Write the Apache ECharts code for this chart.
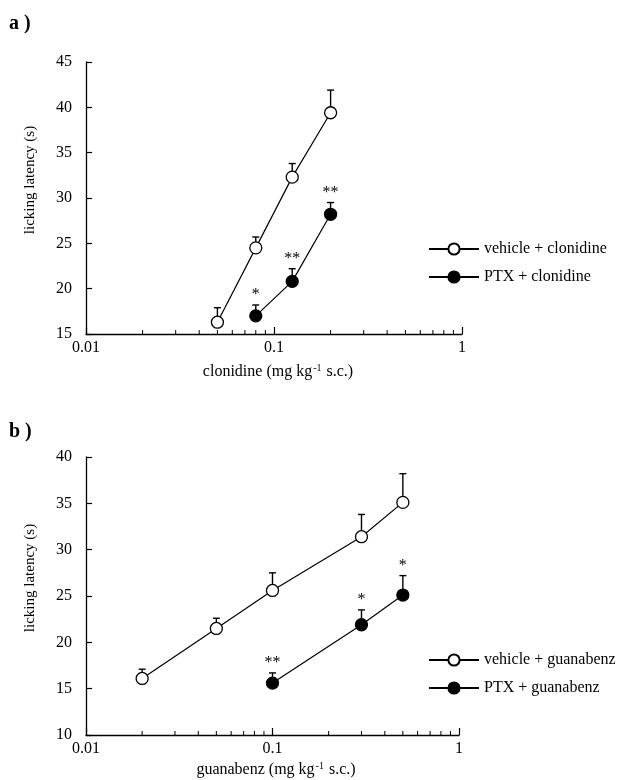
<!DOCTYPE html>
<html><head><meta charset="utf-8">
<script src="https://cdn.jsdelivr.net/npm/echarts@6/dist/echarts.min.js"></script>
<style>html,body{margin:0;padding:0;background:#fff}#c{width:618px;height:780px}</style>
</head><body><div id="c"></div>
<script>
const FONT = "'Liberation Serif','Times New Roman',serif";

// ---- panel a : clonidine ----
const clonVehDose = [0.05, 0.08, 0.125, 0.2];
const clonVehMean = [16.3, 24.5, 32.3, 39.4];
const clonVehSem  = [1.6, 1.2, 1.5, 2.5];
const clonPtxDose = [0.08, 0.125, 0.2];
const clonPtxMean = [17.0, 20.8, 28.2];
const clonPtxSem  = [1.2, 1.4, 1.3];
const clonPtxSig  = ['*', '**', '**'];
const clonYMin = 15, clonYMax = 45;

// ---- panel b : guanabenz ----
const guanVehDose = [0.02, 0.05, 0.1, 0.3, 0.5];
const guanVehMean = [16.1, 21.5, 25.6, 31.4, 35.1];
const guanVehSem  = [1.0, 1.1, 1.9, 2.4, 3.1];
const guanPtxDose = [0.1, 0.3, 0.5];
const guanPtxMean = [15.6, 21.9, 25.1];
const guanPtxSem  = [1.1, 1.6, 2.1];
const guanPtxSig  = ['**', '*', '*'];
const guanYMin = 10, guanYMax = 40;

const yStep = 5;
const xMin = 0.01, xMax = 1;
const xMinorTicks = [0.02,0.03,0.04,0.05,0.06,0.07,0.08,0.09,0.2,0.3,0.4,0.5,0.6,0.7,0.8,0.9];

const names = {
  a: ['vehicle + clonidine', 'PTX + clonidine'],
  b: ['vehicle + guanabenz', 'PTX + guanabenz']
};

const chart = echarts.init(document.getElementById('c'));

function pairs(d, m){ return d.map((v,i)=>[v, m[i]]); }

function lineSeries(name, d, m, filled, ax){
  return {
    type:'line', name, data:pairs(d,m), xAxisIndex:ax, yAxisIndex:ax,
    symbol:'circle', symbolSize:12, z:5, silent:true,
    itemStyle:{color: filled ? '#000' : '#fff', borderColor:'#000', borderWidth:1.3},
    lineStyle:{color:'#000', width:1.2},
    emphasis:{disabled:true}, animation:false
  };
}

function errSeries(d, m, s, sig, ax){
  return {
    type:'custom', xAxisIndex:ax, yAxisIndex:ax, silent:true, z:3, animation:false,
    data: d.map((v,i)=>[v, m[i], s[i]]),
    renderItem(params, api){
      const x = api.value(0), mean = api.value(1), sem = api.value(2);
      const b = api.coord([x, mean]), t = api.coord([x, mean+sem]);
      const ch = [
        {type:'line', shape:{x1:b[0],y1:b[1],x2:t[0],y2:t[1]}, style:{stroke:'#000', lineWidth:1.4}},
        {type:'line', shape:{x1:t[0]-3.5,y1:t[1],x2:t[0]+3.5,y2:t[1]}, style:{stroke:'#000', lineWidth:1.4}}
      ];
      const sg = sig ? sig[params.dataIndex] : '';
      if (sg) ch.push({type:'text', x:t[0], y:t[1]-2, style:{text:sg, font:'16px '+FONT, fill:'#000', align:'center', verticalAlign:'bottom'}});
      return {type:'group', children:ch};
    }
  };
}

function minorSeries(yMin, ax){
  return {
    type:'custom', xAxisIndex:ax, yAxisIndex:ax, silent:true, z:2, animation:false,
    data: xMinorTicks.map(v=>[v, yMin]),
    renderItem(params, api){
      const p = api.coord([api.value(0), api.value(1)]);
      return {type:'line', shape:{x1:p[0],y1:p[1],x2:p[0],y2:p[1]-4}, style:{stroke:'#000', lineWidth:1}};
    }
  };
}

const labelStyle = {fontFamily:FONT, fontSize:16, color:'#000'};

function xAxis(ax){
  return {
    type:'log', logBase:10, min:xMin, max:xMax, gridIndex:ax,
    axisLine:{show:true, onZero:false, lineStyle:{color:'#000', width:1.3}},
    axisTick:{show:true, inside:true, length:7, lineStyle:{color:'#000', width:1.2}},
    axisLabel:Object.assign({margin:6, formatter:v=>String(parseFloat((+v).toPrecision(6)))}, labelStyle),
    splitLine:{show:false}, minorTick:{show:false}
  };
}
function yAxis(ax, mn, mx){
  return {
    type:'value', min:mn, max:mx, interval:yStep, gridIndex:ax,
    axisLine:{show:true, lineStyle:{color:'#000', width:1.3}},
    axisTick:{show:true, inside:true, length:6, lineStyle:{color:'#000', width:1.2}},
    axisLabel:Object.assign({margin:14}, labelStyle),
    splitLine:{show:false}
  };
}

function legend(data, top){
  return {
    data, orient:'vertical', left:428, top, itemWidth:50, itemHeight:14, itemGap:12,
    padding:0, selectedMode:false,
    textStyle:{fontFamily:FONT, fontSize:16, color:'#000'}
  };
}

const supRich = {s:{fontFamily:FONT, fontSize:10, padding:[0,1,7,1], fill:'#000'}};

chart.setOption({
  animation:false,
  backgroundColor:'#fff',
  grid:[
    {left:86, right:156, top:62, height:272},
    {left:86, right:159, top:457, height:278}
  ],
  xAxis:[xAxis(0), xAxis(1)],
  yAxis:[yAxis(0, clonYMin, clonYMax), yAxis(1, guanYMin, guanYMax)],
  legend:[legend(names.a, 241), legend(names.b, 652)],
  series:[
    minorSeries(clonYMin, 0),
    errSeries(clonVehDose, clonVehMean, clonVehSem, null, 0),
    errSeries(clonPtxDose, clonPtxMean, clonPtxSem, clonPtxSig, 0),
    lineSeries(names.a[0], clonVehDose, clonVehMean, false, 0),
    lineSeries(names.a[1], clonPtxDose, clonPtxMean, true, 0),
    minorSeries(guanYMin, 1),
    errSeries(guanVehDose, guanVehMean, guanVehSem, null, 1),
    errSeries(guanPtxDose, guanPtxMean, guanPtxSem, guanPtxSig, 1),
    lineSeries(names.b[0], guanVehDose, guanVehMean, false, 1),
    lineSeries(names.b[1], guanPtxDose, guanPtxMean, true, 1)
  ],
  graphic:[
    {type:'text', x:9, y:24, style:{text:'a )', font:'bold 20px '+FONT, fill:'#000', verticalAlign:'middle'}},
    {type:'text', x:9, y:432, style:{text:'b )', font:'bold 20px '+FONT, fill:'#000', verticalAlign:'middle'}},
    {type:'text', x:30, y:180, rotation:Math.PI/2, style:{text:'licking latency (s)', font:'15px '+FONT, fill:'#000', align:'center', verticalAlign:'middle'}},
    {type:'text', x:30, y:578, rotation:Math.PI/2, style:{text:'licking latency (s)', font:'15px '+FONT, fill:'#000', align:'center', verticalAlign:'middle'}},
    {type:'text', x:278, y:372, style:{text:'clonidine (mg kg{s|-1} s.c.)', rich:supRich, font:'16px '+FONT, fill:'#000', align:'center', verticalAlign:'middle'}},
    {type:'text', x:276, y:770, style:{text:'guanabenz (mg kg{s|-1} s.c.)', rich:supRich, font:'16px '+FONT, fill:'#000', align:'center', verticalAlign:'middle'}}
  ]
});
</script></body></html>
